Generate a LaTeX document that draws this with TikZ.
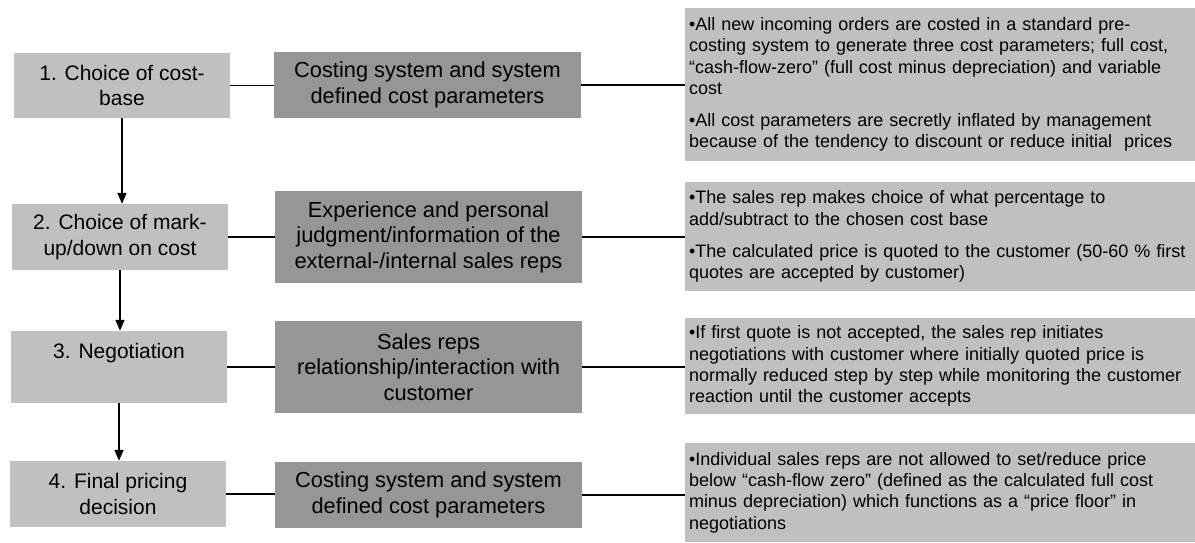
\documentclass[tikz,border=0pt]{standalone}
\usepackage{fontspec}
\setmainfont{Liberation Sans}
\usetikzlibrary{arrows.meta}
\definecolor{lightbox}{HTML}{C0C0C0}
\definecolor{darkbox}{HTML}{969696}
\tikzset{
  stagebox/.style={fill=lightbox, minimum width=216pt, inner sep=0pt, align=center,
    font=\fontsize{21}{25.5}\selectfont},
  factorbox/.style={fill=darkbox, minimum width=307pt, inner sep=0pt, align=center,
    font=\fontsize{21.8}{25.5}\selectfont},
  notebox/.style={fill=lightbox, minimum width=510pt, text width=502pt, inner xsep=4pt, inner ysep=0pt, align=left,
    font=\fontsize{18}{21.3}\selectfont},
  link/.style={line width=1.6pt, draw=black},
  flow/.style={line width=1.6pt, draw=black, -{Triangle[length=11pt,width=9pt]}}
}
\begin{document}
\begin{tikzpicture}[x=1pt,y=-1pt]
\useasboundingbox (0,0) rectangle (1195,542);
% left stage boxes
\node[stagebox, minimum height=65pt] (l1) at (122,85.5) {1. Choice of cost-\\base};
\node[stagebox, minimum height=66pt] (l2) at (120,237) {2. Choice of mark-\\up/down on cost};
\node[stagebox, minimum height=72pt] (l3) at (119,367) {3. Negotiation\\\strut};
\node[stagebox, minimum height=66pt] (l4) at (118,494) {4. Final pricing\\decision};
% middle factor boxes
\node[factorbox, minimum height=66pt] (m1) at (427.5,85) {Costing system and system\\defined cost parameters};
\node[factorbox, minimum height=92pt] (m2) at (428.5,237) {Experience and personal\\judgment/information of the\\external-/internal sales reps};
\node[factorbox, minimum height=92pt] (m3) at (428.5,367) {Sales reps\\relationship/interaction with\\customer};
\node[factorbox, minimum height=66pt] (m4) at (428.5,495) {Costing system and system\\defined cost parameters};
% right note boxes
\node[notebox, minimum height=153pt] (r1) at (940,84.5) {•All new incoming orders are costed in a standard pre-\\costing system to generate three cost parameters; full cost,\\“cash-flow-zero” (full cost minus depreciation) and variable\\cost\\[10.5pt]•All cost parameters are secretly inflated by management\\because of the tendency to discount or reduce initial~ prices};
\node[notebox, minimum height=109pt] (r2) at (940,236.5) {•The sales rep makes choice of what percentage to\\add/subtract to the chosen cost base\\[10.5pt]•The calculated price is quoted to the customer (50-60 \% first\\quotes are accepted by customer)};
\node[notebox, minimum height=96pt] (r3) at (940,366) {•If first quote is not accepted, the sales rep initiates\\negotiations with customer where initially quoted price is\\normally reduced step by step while monitoring the customer\\reaction until the customer accepts};
\node[notebox, minimum height=99pt] (r4) at (940,492.5) {•Individual sales reps are not allowed to set/reduce price\\below “cash-flow zero” (defined as the calculated full cost\\minus depreciation) which functions as a “price floor” in\\negotiations};
% horizontal connectors
\draw[link] (l1.east) -- (l1.east -| m1.west);
\draw[link] (m1.east) -- (m1.east -| r1.west);
\draw[link] (l2.east) -- (l2.east -| m2.west);
\draw[link] (m2.east) -- (m2.east -| r2.west);
\draw[link] (l3.east) -- (l3.east -| m3.west);
\draw[link] (m3.east) -- (m3.east -| r3.west);
\draw[link] (l4.east) -- (l4.east -| m4.west);
\draw[link] (m4.east) -- (m4.east -| r4.west);
% vertical arrows
\draw[flow] (l1.south) -- (l1.south |- l2.north);
\draw[flow] (l2.south) -- (l2.south |- l3.north);
\draw[flow] (l3.south) -- (l3.south |- l4.north);
\end{tikzpicture}
\end{document}
